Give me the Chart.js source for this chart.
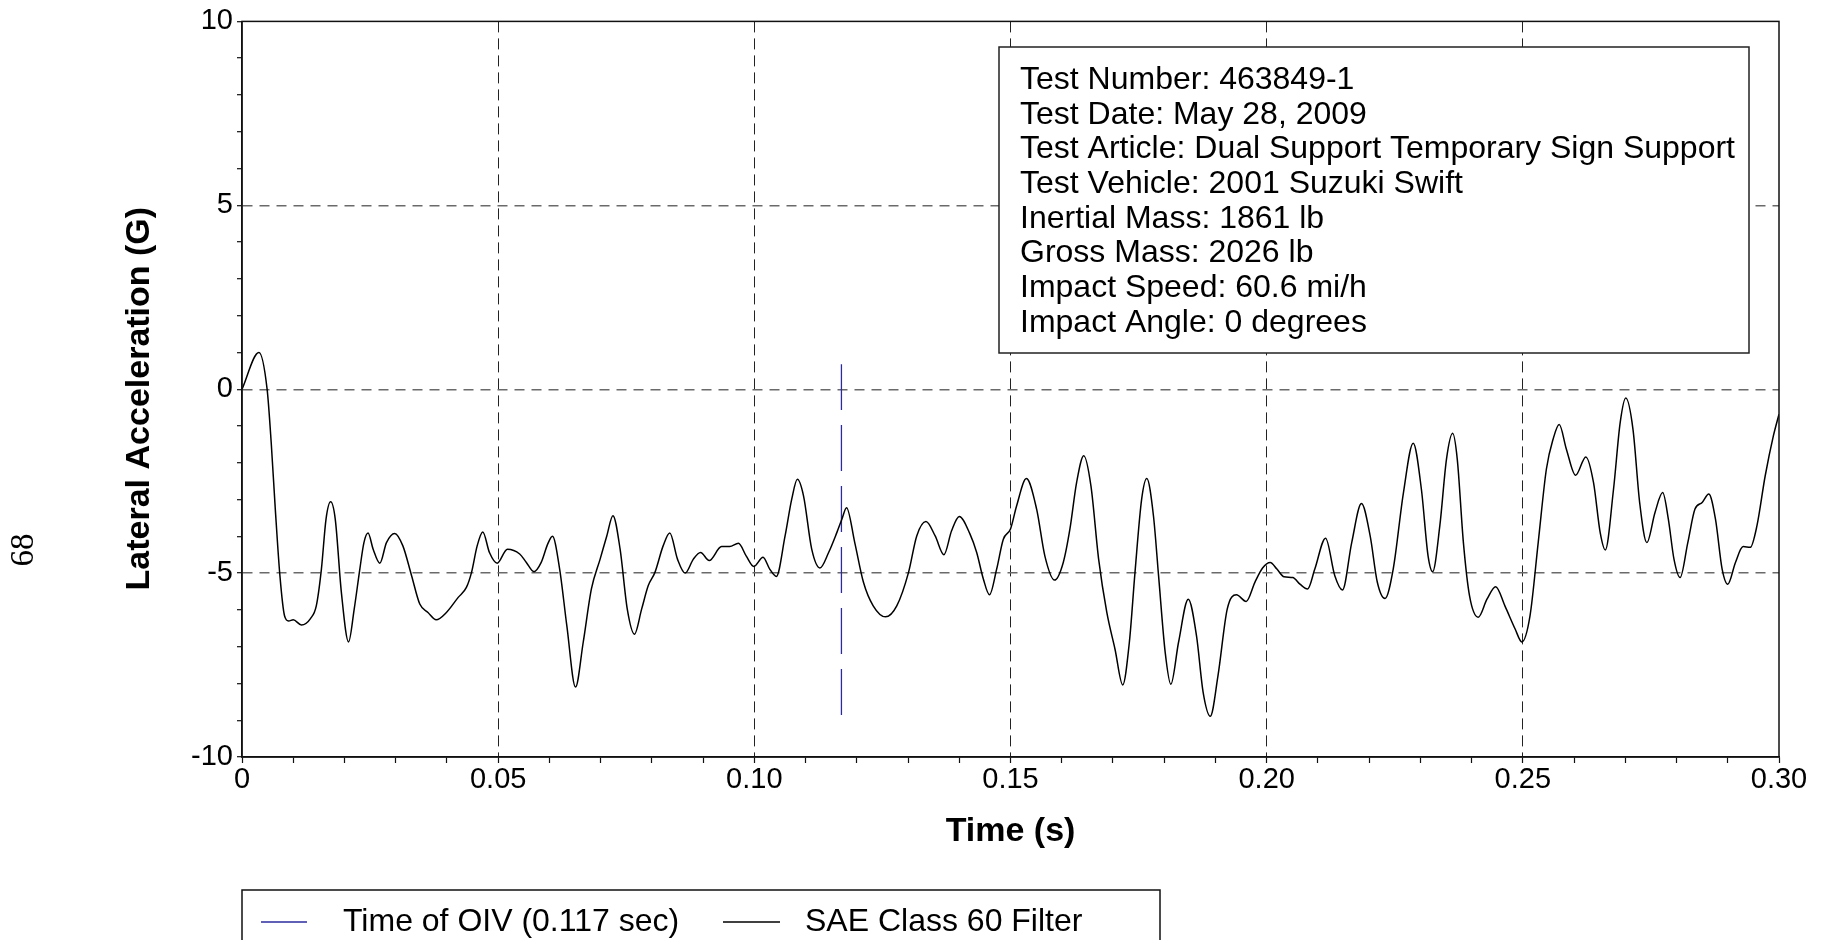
<!DOCTYPE html>
<html>
<head>
<meta charset="utf-8">
<title>Lateral Acceleration</title>
<script src="https://cdn.jsdelivr.net/npm/chart.js@4.4.1/dist/chart.umd.min.js"></script>
<style>
  html, body { margin: 0; padding: 0; background: #fff; }
  #wrap { width: 1823px; height: 940px; }
</style>
</head>
<body>
<div id="wrap"><canvas id="chart" width="1823" height="940"></canvas></div>
<script>
// values
const timeS = [
  0, 0.0033, 0.0049, 0.0057, 0.0065, 0.0074, 0.0083, 0.0091, 0.0100, 0.0116,
  0.0134, 0.0145, 0.0155, 0.0164, 0.0173, 0.0182, 0.0194, 0.0208, 0.0219, 0.0230,
  0.0238, 0.0246, 0.0256, 0.0269, 0.0282, 0.0298, 0.0314, 0.0331, 0.0347, 0.0363,
  0.0379, 0.0399, 0.0422, 0.0438, 0.0448, 0.0459, 0.0470, 0.0483, 0.0498, 0.0518,
  0.0542, 0.0555, 0.0570, 0.0584, 0.0597, 0.0606, 0.0620, 0.0634, 0.0651, 0.0666,
  0.0682, 0.0699, 0.0712, 0.0724, 0.0738, 0.0752, 0.0766, 0.0780, 0.0793, 0.0806,
  0.0822, 0.0835, 0.0850, 0.0865, 0.0881, 0.0895, 0.0912, 0.0936, 0.0952, 0.0969,
  0.0984, 0.0999, 0.1017, 0.1030, 0.1043, 0.1060, 0.1073, 0.1084, 0.1096, 0.1112,
  0.1128, 0.1145, 0.1161, 0.1171, 0.1180, 0.1196, 0.1213, 0.1232, 0.1256, 0.1278,
  0.1301, 0.1317, 0.1335, 0.1353, 0.1370, 0.1385, 0.1400, 0.1421, 0.1434, 0.1447,
  0.1459, 0.1473, 0.1486, 0.1500, 0.1512, 0.1531, 0.1551, 0.1567, 0.1586, 0.1603,
  0.1616, 0.1629, 0.1643, 0.1657, 0.1672, 0.1688, 0.1704, 0.1719, 0.1732, 0.1743,
  0.1756, 0.1766, 0.1779, 0.1789, 0.1802, 0.1813, 0.1828, 0.1847, 0.1863, 0.1876,
  0.1890, 0.1905, 0.1923, 0.1941, 0.1960, 0.1977, 0.1992, 0.2007, 0.2020, 0.2034,
  0.2051, 0.2065, 0.2080, 0.2094, 0.2115, 0.2133, 0.2148, 0.2166, 0.2185, 0.2202,
  0.2216, 0.2231, 0.2247, 0.2267, 0.2286, 0.2302, 0.2315, 0.2324, 0.2338, 0.2351,
  0.2363, 0.2372, 0.2384, 0.2396, 0.2413, 0.2430, 0.2447, 0.2465, 0.2485, 0.2498,
  0.2514, 0.2530, 0.2546, 0.2559, 0.2571, 0.2585, 0.2603, 0.2623, 0.2638, 0.2651,
  0.2661, 0.2677, 0.2690, 0.2701, 0.2715, 0.2728, 0.2742, 0.2758, 0.2773, 0.2784,
  0.2795, 0.2807, 0.2822, 0.2836, 0.2850, 0.2863, 0.2876, 0.2889, 0.2900, 0.2915,
  0.2930, 0.2944, 0.2957, 0.2973, 0.2989, 0.3000
];
const accelG = [
  0, 1.0, 0, -1.45, -3.26, -5.07, -6.16, -6.3, -6.27, -6.41,
  -6.23, -5.89, -4.89, -3.53, -3.06, -3.53, -5.53, -6.87, -5.98, -4.89,
  -4.17, -3.91, -4.35, -4.73, -4.17, -3.92, -4.26, -5.07, -5.84, -6.07,
  -6.27, -6.07, -5.66, -5.39, -4.98, -4.26, -3.88, -4.44, -4.73, -4.35,
  -4.48, -4.71, -4.96, -4.71, -4.2, -4.0, -4.89, -6.43, -8.1, -6.88,
  -5.43, -4.62, -3.99, -3.44, -4.35, -5.98, -6.66, -5.98, -5.34, -4.98,
  -4.26, -3.91, -4.62, -5.0, -4.62, -4.44, -4.66, -4.28, -4.28, -4.19,
  -4.53, -4.82, -4.57, -4.89, -5.09, -3.99, -2.99, -2.45, -2.9, -4.35,
  -4.86, -4.44, -3.9, -3.53, -3.22, -4.17, -5.25, -5.89, -6.19, -5.89,
  -4.98, -3.99, -3.6, -3.99, -4.5, -3.85, -3.46, -3.94, -4.44, -5.16,
  -5.59, -4.89, -4.08, -3.8, -3.17, -2.43, -3.26, -4.53, -5.19, -4.71,
  -3.8, -2.54, -1.81, -2.63, -4.62, -6.07, -7.07, -8.04, -6.88, -4.98,
  -2.99, -2.43, -3.44, -5.07, -7.16, -8.02, -6.88, -5.71, -6.7, -8.24,
  -8.89, -7.79, -5.98, -5.59, -5.77, -5.25, -4.86, -4.71, -4.89, -5.1,
  -5.12, -5.3, -5.43, -4.89, -4.05, -5.07, -5.46, -4.17, -3.11, -3.99,
  -5.25, -5.69, -4.89, -2.81, -1.47, -2.72, -4.53, -4.96, -3.71, -1.9,
  -1.2, -1.9, -4.17, -5.62, -6.2, -5.71, -5.37, -5.89, -6.52, -6.87,
  -6.16, -4.17, -2.17, -1.36, -0.96, -1.63, -2.34, -1.84, -2.54, -3.9,
  -4.37, -2.72, -0.91, -0.24, -1.09, -3.08, -4.17, -3.35, -2.81, -3.53,
  -4.62, -5.12, -4.17, -3.26, -3.08, -2.85, -3.53, -4.89, -5.3, -4.71,
  -4.28, -4.3, -3.71, -2.36, -1.27, -0.68
];

const oivTime = [0.117, 0.117];
const oivSpan = [-8.86, 0.68];

const xTickLabels = ['0', '0.05', '0.10', '0.15', '0.20', '0.25', '0.30'];
const yTickLabels = ['-10', '-5', '0', '5', '10'];
const seriesLabels = ['Time of OIV (0.117 sec)', 'SAE Class 60 Filter'];
const infoLines = [
  'Test Number: 463849-1',
  'Test Date: May 28, 2009',
  'Test Article: Dual Support Temporary Sign Support',
  'Test Vehicle: 2001 Suzuki Swift',
  'Inertial Mass: 1861 lb',
  'Gross Mass: 2026 lb',
  'Impact Speed: 60.6 mi/h',
  'Impact Angle: 0 degrees'
];
const pageNumber = '68';

const SANS = "'Liberation Sans', Arial, Helvetica, sans-serif";
const OIV_BLUE = '#2b2b9e';

// info box, legend box, outer frame and the page number
const extrasPlugin = {
  id: 'extras',
  afterDraw(chart) {
    const { ctx, chartArea } = chart;
    ctx.save();

    // plot frame (top and right edges are solid too)
    ctx.strokeStyle = '#111';
    ctx.lineWidth = 1.5;
    ctx.setLineDash([]);
    ctx.strokeRect(chartArea.left, chartArea.top,
      chartArea.right - chartArea.left, chartArea.bottom - chartArea.top);

    // info box
    ctx.fillStyle = '#fff';
    ctx.fillRect(999, 47, 750, 306);
    ctx.strokeStyle = '#222';
    ctx.lineWidth = 1.5;
    ctx.strokeRect(999, 47, 750, 306);
    ctx.fillStyle = '#000';
    ctx.font = '32px ' + SANS;
    ctx.textAlign = 'left';
    ctx.textBaseline = 'middle';
    infoLines.forEach((line, i) => ctx.fillText(line, 1020, 80 + i * 34.7));

    // legend box (runs off the bottom edge)
    ctx.strokeStyle = '#111';
    ctx.strokeRect(242, 890, 918, 80);
    const ds = chart.data.datasets;
    const entries = [
      { ds: ds[1], x1: 261, x2: 307, tx: 343 },
      { ds: ds[0], x1: 723, x2: 780, tx: 805 }
    ];
    entries.forEach(e => {
      ctx.strokeStyle = e.ds.borderColor;
      ctx.lineWidth = 1.5;
      ctx.beginPath();
      ctx.moveTo(e.x1, 922);
      ctx.lineTo(e.x2, 922);
      ctx.stroke();
      ctx.fillStyle = '#000';
      ctx.fillText(e.ds.label, e.tx, 922);
    });

    // page number in the margin
    ctx.translate(24, 550);
    ctx.rotate(-Math.PI / 2);
    ctx.font = "33px 'Liberation Serif', 'Times New Roman', serif";
    ctx.textAlign = 'center';
    ctx.fillText(pageNumber, 0, 0);
    ctx.restore();
  }
};

new Chart(document.getElementById('chart'), {
  type: 'line',
  data: {
    datasets: [
      {
        label: seriesLabels[1],
        data: timeS.map((t, i) => ({ x: t, y: accelG[i] })),
        borderColor: '#000',
        borderWidth: 1.5,
        pointRadius: 0,
        cubicInterpolationMode: 'monotone',
        fill: false
      },
      {
        label: seriesLabels[0],
        data: oivTime.map((t, i) => ({ x: t, y: oivSpan[i] })),
        borderColor: OIV_BLUE,
        borderWidth: 1.3,
        borderDash: [46, 15],
        pointRadius: 0,
        fill: false
      }
    ]
  },
  options: {
    responsive: false,
    animation: false,
    devicePixelRatio: 1,
    layout: { padding: { top: 17, right: 44, left: 0, bottom: 0 } },
    plugins: {
      legend: { display: false },
      tooltip: { enabled: false }
    },
    scales: {
      x: {
        type: 'linear',
        min: 0,
        max: 0.3,
        afterFit: (scale) => { scale.height = 183; },
        border: { display: true, color: '#111', width: 1.5, dash: [11, 6] },
        grid: {
          color: (c) => {
            if (!c.tick) return 'transparent';
            const i = Math.round(c.tick.value * 100);
            return (i % 5 === 0 && i > 0 && i < 30) ? '#222' : 'transparent';
          },
          lineWidth: 1,
          tickColor: '#111',
          tickLength: 6,
          tickWidth: 1.2
        },
        ticks: {
          stepSize: 0.01,
          maxTicksLimit: 100,
          autoSkip: false,
          maxRotation: 0,
          padding: 0,
          color: '#000',
          font: { family: SANS, size: 29 },
          callback: (v) => {
            const i = Math.round(v * 100);
            return i % 5 === 0 ? xTickLabels[i / 5] : '';
          }
        },
        title: {
          display: true,
          text: 'Time (s)',
          color: '#000',
          font: { family: SANS, size: 34, weight: 'bold' },
          padding: { top: 0, bottom: 88 }
        }
      },
      y: {
        type: 'linear',
        min: -10,
        max: 10,
        afterFit: (scale) => { scale.width = 242; },
        border: { display: true, color: '#111', width: 1.5, dash: [10, 7] },
        grid: {
          color: (c) => {
            if (!c.tick) return 'transparent';
            const v = Math.round(c.tick.value);
            return (v % 5 === 0 && v > -10 && v < 10) ? '#6a6a6a' : 'transparent';
          },
          lineWidth: 1.4,
          tickColor: '#111',
          tickLength: 5,
          tickWidth: 1.2
        },
        ticks: {
          stepSize: 1,
          maxTicksLimit: 100,
          autoSkip: false,
          padding: 4,
          color: '#000',
          font: { family: SANS, size: 29 },
          callback: (v) => {
            const i = Math.round(v);
            return i % 5 === 0 ? yTickLabels[(i + 10) / 5] : '';
          }
        },
        title: {
          display: true,
          // trailing spaces nudge the rotated title a little lower, as in the original
          text: 'Lateral Acceleration (G)  ',
          color: '#000',
          font: { family: SANS, size: 34, weight: 'bold' },
          padding: { top: 119, bottom: 0 }
        }
      }
    }
  },
  plugins: [extrasPlugin]
});
</script>
</body>
</html>
